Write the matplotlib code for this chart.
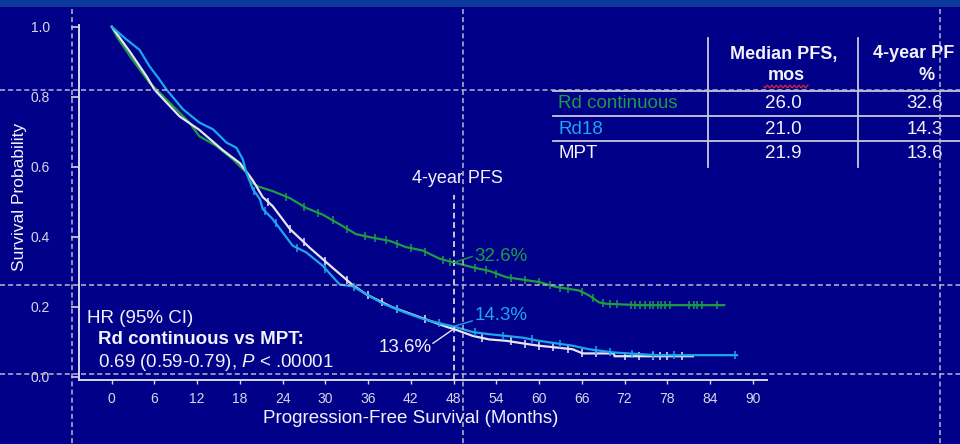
import matplotlib
matplotlib.use("Agg")
import matplotlib.pyplot as plt
import numpy as np
from matplotlib import font_manager
from matplotlib.lines import Line2D
from matplotlib.patches import Rectangle

# ---------------- data ----------------
month_ticks = list(range(0, 91, 6))
prob_ticks = [0.0, 0.2, 0.4, 0.6, 0.8, 1.0]

# Rd continuous
rdc_t = [0, 0.7, 2.9, 5.3, 6.3, 8.6, 10.9, 12.3, 14.7, 17.0, 18.9, 19.6, 20.6, 22.6, 25.0,
         27.3, 29.6, 32.0, 34.3, 36.6, 39.0, 41.3, 43.7, 46.0, 48.0, 50.7, 53.0, 55.4,
         60.0, 62.4, 65.6, 67.0, 68.4, 69.4, 74.0, 86.0]
rdc_s = [1.0, 0.972, 0.906, 0.84, 0.82, 0.773, 0.726, 0.687, 0.659, 0.621, 0.583, 0.556,
         0.543, 0.53, 0.51, 0.482, 0.463, 0.435, 0.407, 0.397, 0.388, 0.37, 0.36, 0.337,
         0.326, 0.312, 0.302, 0.284, 0.27, 0.256, 0.246, 0.232, 0.212, 0.208, 0.204, 0.204]
rdc_cens = [24.5, 27.0, 29.0, 31.0, 33.0, 35.5, 37.0, 38.5, 40.0, 42.0, 44.0, 46.5, 47.5,
            51.0, 52.5, 54.0, 56.0, 58.0, 60.0, 61.5, 63.0, 64.0, 66.0, 67.5, 69.0, 70.0,
            71.0, 72.9, 73.5, 74.2, 74.9, 75.6, 76.0, 76.7, 77.1, 77.7, 78.4, 81.1, 81.8,
            82.2, 82.9, 85.0]

# Rd18
rd18_t = [0, 2.1, 3.9, 5.3, 6.7, 7.7, 10.0, 12.3, 14.2, 16.1, 17.5, 18.4, 18.9, 19.8, 20.8,
          21.2, 22.6, 24.0, 25.4, 27.3, 29.6, 32.0, 33.8, 35.7, 38.1, 41.3, 44.1, 46.9,
          48.0, 50.7, 53.0, 57.7, 60.0, 64.7, 67.0, 70.3, 76.3, 87.8]
rd18_s = [1.0, 0.963, 0.934, 0.887, 0.849, 0.82, 0.764, 0.726, 0.707, 0.669, 0.654, 0.621,
          0.583, 0.536, 0.507, 0.479, 0.45, 0.412, 0.374, 0.355, 0.317, 0.263, 0.258, 0.236,
          0.208, 0.182, 0.162, 0.148, 0.143, 0.127, 0.121, 0.111, 0.102, 0.088, 0.078,
          0.069, 0.061, 0.061]
rd18_cens = [20.0, 21.5, 23.0, 26.0, 30.0, 34.0, 40.0, 46.0, 51.0, 55.0, 59.0, 63.0, 68.0,
             70.0, 73.0, 76.0, 79.0, 87.5]

# MPT
mpt_t = [0, 2.5, 4.9, 6.0, 9.5, 12.3, 15.6, 18.0, 19.8, 21.2, 22.6, 25.0, 27.8, 31.0, 33.8,
         35.8, 39.4, 43.2, 47.0, 48.0, 50.7, 53.0, 55.4, 58.6, 60.0, 64.7, 66.1, 70.5, 70.6,
         81.6]
mpt_s = [1.0, 0.93, 0.858, 0.82, 0.744, 0.705, 0.647, 0.61, 0.561, 0.513, 0.487, 0.422,
         0.368, 0.311, 0.262, 0.234, 0.198, 0.17, 0.142, 0.136, 0.116, 0.106, 0.102, 0.092,
         0.088, 0.078, 0.066, 0.066, 0.058, 0.058]
mpt_cens = [22.0, 25.0, 27.0, 30.0, 33.0, 36.0, 38.0, 40.0, 44.0, 52.0, 56.0, 58.0, 60.0,
            62.0, 64.0, 66.0, 68.0, 72.0, 74.0, 76.0, 77.0, 78.0, 80.0]

arm_names = ["Rd continuous", "Rd18", "MPT"]
median_pfs = ["26.0", "21.0", "21.9"]
pfs_4yr = ["32.6", "14.3", "13.6"]
pfs_4yr_val = [0.326, 0.143, 0.136]
landmark_month = 48

# ---------------- style ----------------
BG = "#000088"
BAND = "#0b3a9c"
GREEN = "#1c9c44"
BLUE = "#1ca6ec"
WHITE = "#e6e6f2"
TEXT = "#f2f2fa"
GUIDE = "#b8b8cc"
AXC = "#d8d8e8"

SANS = "Liberation Sans"
try:
    font_manager.findfont("Liberation Sans Narrow", fallback_to_default=False)
    NARROW = "Liberation Sans Narrow"
except Exception:
    NARROW = SANS

plt.rcParams["font.family"] = [SANS, "DejaVu Sans"]
plt.rcParams["mathtext.fontset"] = "custom"
plt.rcParams["mathtext.rm"] = SANS
plt.rcParams["mathtext.it"] = SANS + ":italic"

W, H = 960, 444
fig = plt.figure(figsize=(W / 100, H / 100), dpi=100, facecolor=BG)


def fx(x):
    return x / W


def fy(y):
    return 1 - y / H


# header band
fig.patches.append(Rectangle((0, fy(7)), 1, 7 / H, transform=fig.transFigure,
                             facecolor=BAND, edgecolor="none", zorder=0))

# ---------------- axes ----------------
ax = fig.add_axes([fx(79), fy(380), (767 - 79) / W, (380 - 25) / H])
ax.set_facecolor("none")
ax.set_xlim(-4.6, 92)
ax.set_ylim(-0.01, 1.005)
for side in ("top", "right"):
    ax.spines[side].set_visible(False)
for side in ("left", "bottom"):
    ax.spines[side].set_color(AXC)
    ax.spines[side].set_linewidth(1.4)

ax.set_xticks(month_ticks)
ax.set_yticks(prob_ticks)
ax.set_yticklabels([f"{v:.1f}" for v in prob_ticks])
ax.tick_params(axis="y", direction="out", length=6, width=1.2, color=AXC,
               labelcolor=AXC, labelsize=10, pad=15)
ax.tick_params(axis="x", direction="out", length=3, width=1.0, color=AXC,
               labelcolor=AXC, labelsize=10, pad=5.5)
for lab in ax.get_xticklabels() + ax.get_yticklabels():
    lab.set_family(NARROW)

curves = [(rdc_t, rdc_s, rdc_cens, GREEN, 3),
          (mpt_t, mpt_s, mpt_cens, WHITE, 4),
          (rd18_t, rd18_s, rd18_cens, BLUE, 5)]
for t, s, cens, col, z in curves:
    ax.plot(t, s, color=col, lw=1.6, zorder=z, solid_joinstyle="miter")
    ax.plot(cens, np.interp(cens, t, s), ls="none", marker="|", ms=6, mew=1.1,
            color=col, zorder=z)

# landmark line and annotations
ax.plot([landmark_month, landmark_month], [-0.01, 0.519], color=WHITE, lw=1.2,
        dashes=(3.5, 2.2), zorder=6)
ax.text(48.5, 0.565, "4-year PFS", color=TEXT, fontsize=13, ha="center", va="center")

ax.plot([landmark_month, 50.6], [pfs_4yr_val[0], 0.343], color=GREEN, lw=1.0, zorder=6)
ax.text(50.9, 0.343, f"{pfs_4yr[0]}%", color=GREEN, fontsize=13.5, ha="left", va="center")
ax.plot([landmark_month, 50.6], [pfs_4yr_val[1], 0.159], color=BLUE, lw=1.0, zorder=6)
ax.text(50.9, 0.175, f"{pfs_4yr[1]}%", color=BLUE, fontsize=13.5, ha="left", va="center")
ax.plot([45.1, landmark_month], [0.095, pfs_4yr_val[2]], color=WHITE, lw=1.0, zorder=6)
ax.text(44.9, 0.084, f"{pfs_4yr[2]}%", color=TEXT, fontsize=13.5, ha="right", va="center")

# axis titles
fig.text(fx(20), fy(197), "Survival Probability", rotation=90, color=TEXT,
         fontsize=12.5, ha="center", va="center")
fig.text(fx(411), fy(418), "Progression-Free Survival (Months)", color=TEXT,
         fontsize=13.5, ha="center", va="center")

# hazard ratio box
fig.text(fx(87), fy(318), "HR (95% CI)", color=TEXT, fontsize=13.5, va="center")
fig.text(fx(98), fy(340), "Rd continuous vs MPT:", color=TEXT, fontsize=13.5,
         fontweight="bold", va="center")
fig.text(fx(98), fy(362), r"0.69 (0.59-0.79), $\mathit{P}$ < .00001", color=TEXT,
         fontsize=13.5, va="center")

# ---------------- summary table ----------------
tbl_line = dict(transform=fig.transFigure, color="#c8c8dc", lw=1.3, zorder=7)
for yy in (91, 116, 141):
    fig.add_artist(Line2D([fx(553), 1], [fy(yy), fy(yy)], **tbl_line))
for xx in (708, 858):
    fig.add_artist(Line2D([fx(xx), fx(xx)], [fy(38), fy(167)], **tbl_line))

fig.text(fx(784), fy(54), "Median PFS,", color=TEXT, fontsize=13, fontweight="bold",
         ha="center", va="center")
fig.text(fx(786), fy(75), "mos", color=TEXT, fontsize=13, fontweight="bold",
         ha="center", va="center")
wx = np.linspace(764, 808, 60)
wy = 86.5 + 1.3 * np.sin((wx - 764) / 4.5 * 2 * np.pi)
fig.add_artist(Line2D(fx(wx), fy(wy), transform=fig.transFigure, color="#e0203a",
                      lw=0.9, zorder=8))
fig.text(fx(873), fy(54), "4-year PF", color=TEXT, fontsize=13, fontweight="bold",
         ha="left", va="center")
fig.text(fx(927), fy(75), "%", color=TEXT, fontsize=13, fontweight="bold",
         ha="center", va="center")

row_y = [103, 129, 154]
row_col = [GREEN, BLUE, TEXT]
for name, med, p4, yy, col in zip(arm_names, median_pfs, pfs_4yr, row_y, row_col):
    fig.text(fx(558), fy(yy), name, color=col, fontsize=13.5, ha="left", va="center")
    fig.text(fx(783), fy(yy), med, color=TEXT, fontsize=13.5, ha="center", va="center")
    fig.text(fx(925), fy(yy), p4, color=TEXT, fontsize=13.5, ha="center", va="center")

# ---------------- layout guides ----------------
guide = dict(transform=fig.transFigure, color=GUIDE, lw=1.1, dashes=(3.3, 2.0), zorder=9)
for yy in (90, 285, 374):
    fig.add_artist(Line2D([0, 1], [fy(yy), fy(yy)], **guide))
for xx in (72, 463, 940):
    fig.add_artist(Line2D([fx(xx), fx(xx)], [fy(9), 0], **guide))

fig.savefig("out.png", dpi=100, facecolor=BG)
